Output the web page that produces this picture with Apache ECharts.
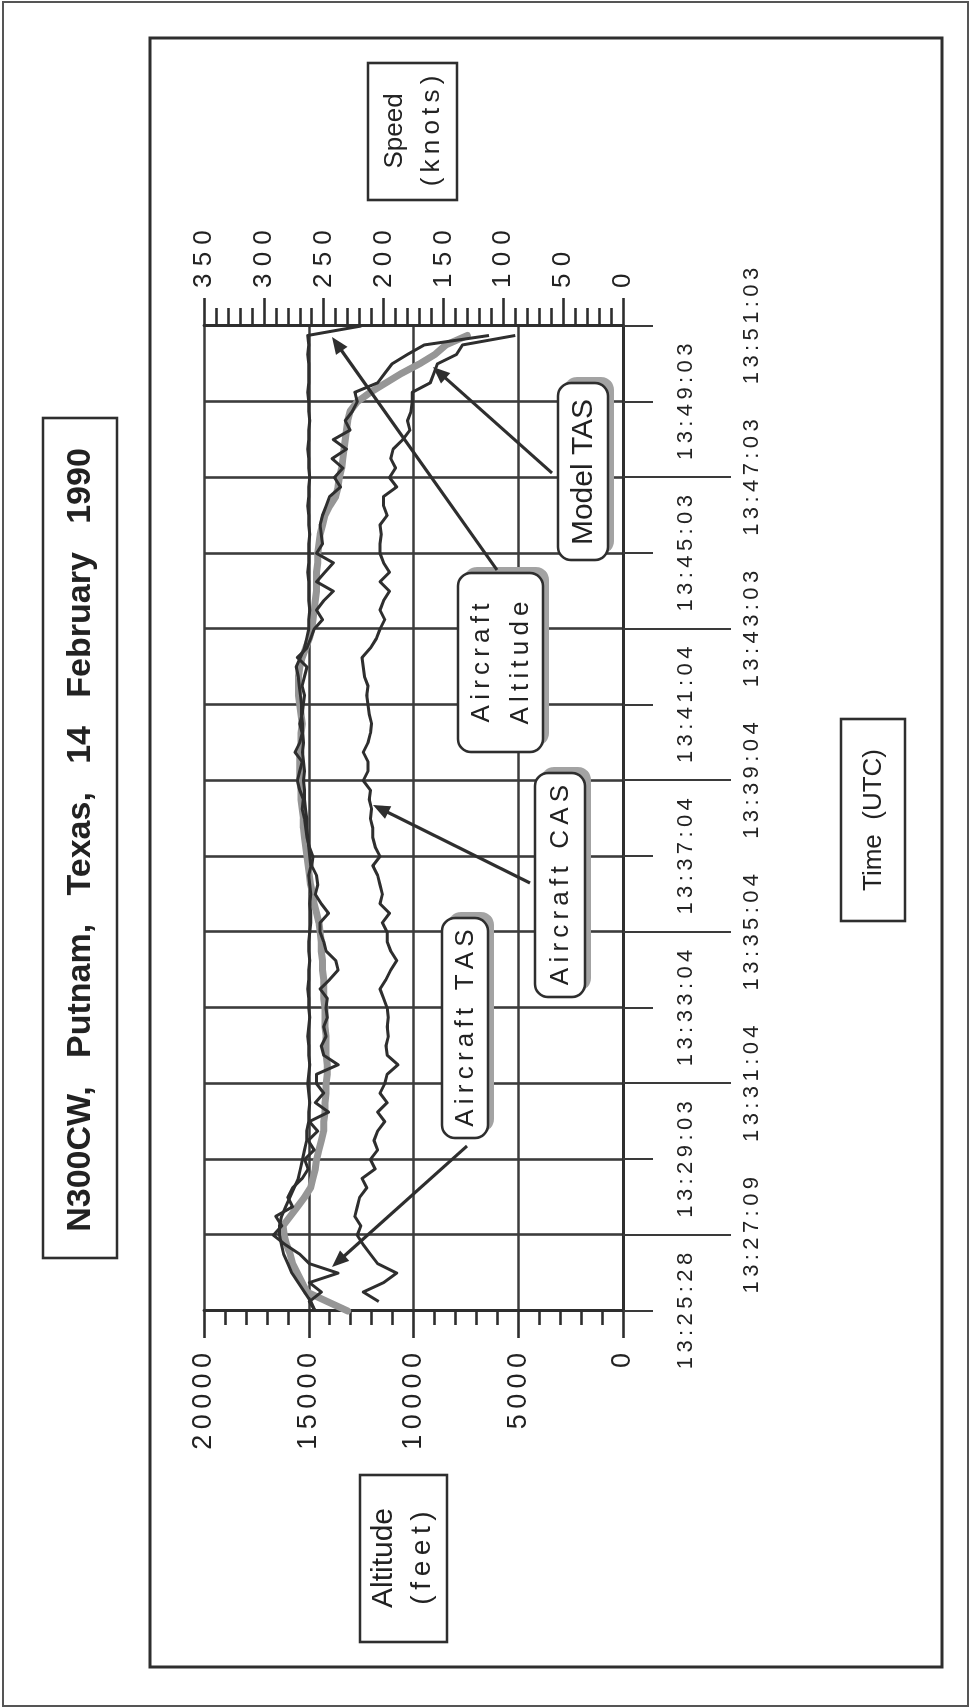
<!DOCTYPE html>
<html><head><meta charset="utf-8">
<script src="https://cdn.jsdelivr.net/npm/echarts/dist/echarts.min.js"></script>
<style>
html,body{margin:0;padding:0;background:#fff;overflow:hidden;width:971px;height:1708px;}
#wrap{position:absolute;left:0;top:0;width:1708px;height:971px;transform-origin:0 0;transform:rotate(-90deg) translate(-1708px,0);}
#chart{width:1708px;height:971px;background:#fff;}
</style></head><body><div id="wrap"><div id="chart"></div></div>
<script>
// ---- data ----
const tickLabels = ['13:25:28','13:27:09','13:29:03','13:31:04','13:33:04','13:35:04','13:37:04','13:39:04','13:41:04','13:43:03','13:45:03','13:47:03','13:49:03','13:51:03'];
const pointsPerTick = 8;
const altitudeMax = 20000, altitudeStep = 5000;
const speedMax = 350, speedStep = 50;

const modelTAS = [230,247,264,268,272,276,278,281,283,284, 278,272,266,261,259,257,256,254,252,250, 250,249,249,248,248,247,247,248,248,248, 249,249,249,250,250,250,251,251,252,252, 253,254,256,258,259,261,262,263,264,265, 266,267,267,268,269,269,270,270,270,270, 269,269,268,269,270,271,271,271,270,268, 265,262,260,259,258,257,256,256,256,255, 255,254,253,251,249,245,240,238,237,235, 234,233,232,231,230,228,222,211,198,185, 170,157,148,130];
const aircraftTAS = [257,262,252,262,238,262,270,282,292,285, 290,276,280,276,268,263,266,258,263,255, 262,246,257,250,256,256,238,250,252,248, 250,247,248,247,253,245,238,240,248,250, 253,253,246,252,257,255,256,260,259,262, 264,265,266,268,267,270,272,270,268,274, 270,268,270,268,267,266,268,266,264,272, 264,261,258,251,256,250,242,256,249,242, 256,251,252,253,251,248,245,236,241,234, 243,231,242,228,232,226,222,224,205,199, 193,180,166,112];
const aircraftCAS = [null,204,217,200,189,205,211,217,222,219, 224,222,220,214,218,207,211,205,208,205, 199,205,197,203,199,197,188,197,198,196, 197,196,197,200,203,198,194,189,194,197, 197,201,195,203,201,203,205,209,203,207, 209,209,211,210,212,211,217,213,213,217, 213,211,210,212,213,214,213,216,217,218, 211,206,203,199,203,200,195,203,195,200, 203,203,202,203,197,200,200,189,195,190, 194,192,184,178,180,177,176,176,161,158, 155,139,134,90];
const aircraftAltitude = [14700,14900,15200,15500,15800,16000,16200,16300,16400,16400, 16300,16100,15900,15700,15500,15400,15300,15200,15100,15100, 15000,15000,14950,15000,15050,15000,14950,15000,15000,15050, 15000,14950,15000,15000,15050,15000,15000,14950,15000,15000, 14950,14900,14900,14950,14900,14950,15000,14900,14950,15000, 15050,15100,15100,15150,15200,15200,15250,15200,15250,15300, 15250,15300,15300,15350,15350,15400,15450,15500,15600,15400, 15200,15100,15000,15000,14950,15000,15000,15000,15050,15000, 15000,15000,14950,15000,15000,15050,15000,15000,14950,15000, 15000,15050,15000,15000,14950,15000,15000,15050,15000,15000, 15000,15050,15000,15050,12500];

// category axis built from the tick labels
const categories = [];
for (let k = 0; k < tickLabels.length - 1; k++) {
  for (let j = 0; j < pointsPerTick; j++) categories.push(j === 0 ? tickLabels[k] : tickLabels[k] + '+' + j);
}
categories.push(tickLabels[tickLabels.length - 1]);
const lastIdx = categories.length - 1;

// ---- styling helpers ----
const FONT = '"Liberation Sans", Arial, Helvetica, sans-serif';
const THIN = '\u2009';
const INK = '#2e2e2e';
const spaced = (s, sep) => String(s).split('').join(sep);

function arrow(x1, y1, x2, y2) {
  const dx = x2 - x1, dy = y2 - y1, len = Math.hypot(dx, dy), ux = dx / len, uy = dy / len;
  const hl = 17, hw = 7;
  const bx = x2 - ux * hl, by = y2 - uy * hl;
  return [
    {type:'line', shape:{x1:x1, y1:y1, x2:bx + ux*2, y2:by + uy*2}, style:{stroke:INK, lineWidth:3.2}, z:100},
    {type:'polygon', shape:{points:[[x2,y2],[bx - uy*hw, by + ux*hw],[bx + uy*hw, by - ux*hw]]}, style:{fill:INK}, z:100}
  ];
}
function plainBox(x, y, w, h) {
  return {type:'rect', shape:{x:x, y:y, width:w, height:h}, style:{fill:'#fff', stroke:INK, lineWidth:2.6}, z:50};
}
function roundBox(x, y, w, h) {
  return [
    {type:'rect', shape:{x:x+6, y:y+6, width:w, height:h, r:13}, style:{fill:'#a3a3a3'}, z:50},
    {type:'rect', shape:{x:x, y:y, width:w, height:h, r:13}, style:{fill:'#fff', stroke:INK, lineWidth:2.6}, z:51}
  ];
}
function label(text, x, y, size, bold) {
  return {type:'text', x:x, y:y, z:52, style:{text:text, fontSize:size, fontWeight:bold ? 'bold' : 'normal', fontFamily:FONT,
    fill:'#222', align:'center', verticalAlign:'middle', textAlign:'center', textVerticalAlign:'middle'}};
}

const graphics = [].concat(
  [{type:'rect', shape:{x:2, y:3, width:1704, height:965}, style:{fill:'none', stroke:'#555', lineWidth:2}, z:40},
   {type:'rect', shape:{x:41, y:150, width:1629, height:792}, style:{fill:'none', stroke:INK, lineWidth:3}, z:40}],
  // title
  [plainBox(450, 43, 840, 74), label('N300CW,   Putnam,   Texas,   14   February   1990', 868, 81, 34, true)],
  // axis name boxes
  [plainBox(1508, 368, 137, 89), label('Speed', 1577, 395, 26), label(spaced('(knots)', THIN), 1577, 432, 26)],
  [plainBox(66, 360, 167, 87), label('Altitude', 150, 384, 30), label(spaced('(feet)', THIN), 150, 422, 28)],
  [plainBox(787, 841, 202, 64), label('Time  (UTC)', 888, 874, 26)],
  // annotations
  roundBox(570, 442, 220, 46), [label(spaced('Aircraft TAS', THIN), 680, 466, 26)],
  roundBox(711, 535, 224, 50), [label(spaced('Aircraft CAS', THIN), 823, 561, 26)],
  roundBox(956, 458, 179, 85), [label(spaced('Aircraft', THIN), 1045, 482, 26), label(spaced('Altitude', THIN), 1045, 521, 26)],
  roundBox(1148, 558, 177, 50), [label('Model TAS', 1236, 584, 30)],
  arrow(562, 467, 441, 332),
  arrow(825, 530, 903, 373),
  arrow(1138, 497, 1371, 332),
  arrow(1235, 552, 1341, 433)
);

const chart = echarts.init(document.getElementById('chart'), null, {renderer:'canvas'});
const tickLine = {color:'#3a3a3a', width:2};
chart.setOption({
  animation:false,
  backgroundColor:'#fff',
  grid:{left:397, right:326, top:204, bottom:348, containLabel:false, outerBoundsMode:'none'},
  xAxis:[
    {type:'category', data:categories, boundaryGap:false, position:'bottom',
     axisLine:{show:true, lineStyle:{color:INK, width:3}},
     axisTick:{show:true, interval:(i) => i % (2*pointsPerTick) === 0 || i === lastIdx, length:30, lineStyle:tickLine},
     axisLabel:{show:true, interval:(i) => i % (2*pointsPerTick) === 0, margin:52, color:'#222', fontSize:22, fontFamily:FONT,
       formatter:(v) => spaced(v, THIN)},
     splitLine:{show:true, interval:(i) => i % pointsPerTick === 0, lineStyle:{color:'#3c3c3c', width:2.6}}},
    {type:'category', data:categories, boundaryGap:false, position:'bottom', gridIndex:0,
     axisLine:{show:false},
     axisTick:{show:true, interval:(i) => i % (2*pointsPerTick) === pointsPerTick && i !== lastIdx, length:108, lineStyle:tickLine},
     axisLabel:{show:true, interval:(i) => i % (2*pointsPerTick) === pointsPerTick, margin:118, color:'#222', fontSize:22, fontFamily:FONT,
       formatter:(v) => spaced(v, THIN)},
     splitLine:{show:false}}
  ],
  yAxis:[
    {type:'value', min:0, max:altitudeMax, interval:altitudeStep, position:'left',
     axisLine:{show:true, lineStyle:{color:INK, width:3}},
     axisTick:{show:true, length:27, lineStyle:{color:INK, width:2.6}},
     minorTick:{show:true, splitNumber:5, length:14, lineStyle:{color:INK, width:2.6}},
     splitLine:{show:true, lineStyle:{color:'#3c3c3c', width:2.6}},
     axisLabel:{margin:42, color:'#222', fontSize:27, fontFamily:FONT, formatter:(v) => spaced(v, THIN)}},
    {type:'value', min:0, max:speedMax, interval:speedStep, position:'right',
     axisLine:{show:true, lineStyle:{color:INK, width:3}},
     axisTick:{show:true, length:28, lineStyle:{color:INK, width:2.6}},
     minorTick:{show:true, splitNumber:5, length:18, lineStyle:{color:INK, width:2.6}},
     splitLine:{show:false},
     axisLabel:{margin:38, color:'#222', fontSize:26, fontFamily:FONT, formatter:(v) => spaced(v, ' ')}}
  ],
  series:[
    {name:'Model TAS', type:'line', xAxisIndex:0, yAxisIndex:1, data:modelTAS, symbol:'none', z:2,
     lineStyle:{color:'#969696', width:7, join:'round', cap:'round'}},
    {name:'Aircraft Altitude', type:'line', xAxisIndex:0, yAxisIndex:0, data:aircraftAltitude, symbol:'none', z:3,
     lineStyle:{color:INK, width:3, join:'round'}},
    {name:'Aircraft TAS', type:'line', xAxisIndex:0, yAxisIndex:1, data:aircraftTAS, symbol:'none', z:3,
     lineStyle:{color:INK, width:3, join:'round'}},
    {name:'Aircraft CAS', type:'line', xAxisIndex:0, yAxisIndex:1, data:aircraftCAS, symbol:'none', z:3,
     lineStyle:{color:INK, width:3, join:'round'}}
  ],
  graphic:{elements:graphics}
});
</script>
</body></html>
